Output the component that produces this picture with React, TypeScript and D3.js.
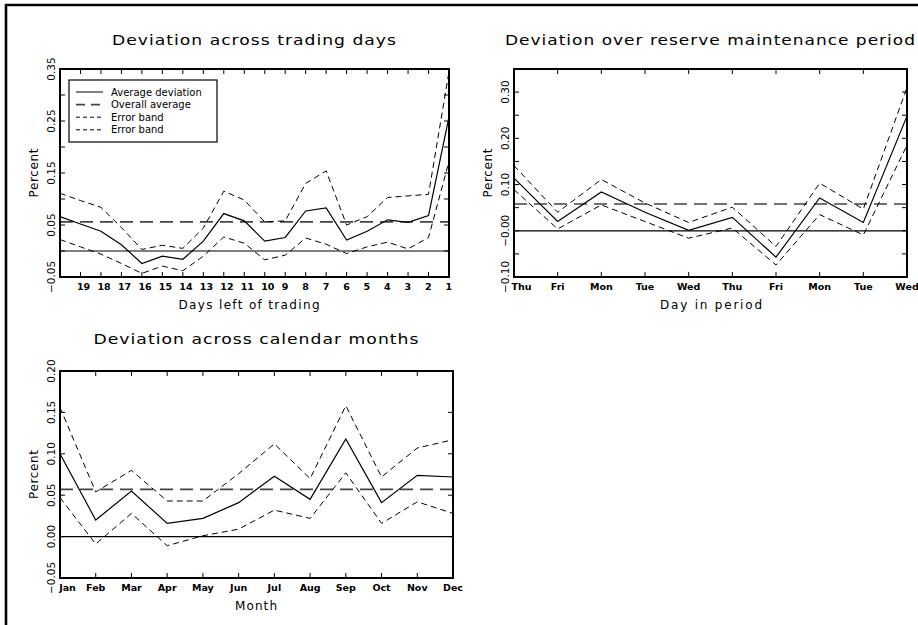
import React from "react";
import * as d3 from "d3";

// ---------- data ----------
const tradingDays = [20, 19, 18, 17, 16, 15, 14, 13, 12, 11, 10, 9, 8, 7, 6, 5, 4, 3, 2, 1];
const tradingDayLabels = ["", "19", "18", "17", "16", "15", "14", "13", "12", "11", "10", "9", "8", "7", "6", "5", "4", "3", "2", "1"];
const tradingAvg = [0.066, 0.052, 0.038, 0.012, -0.024, -0.010, -0.016, 0.019, 0.072, 0.058, 0.019, 0.026, 0.077, 0.083, 0.021, 0.038, 0.060, 0.055, 0.068, 0.258];
const tradingUpper = [0.111, 0.097, 0.084, 0.045, 0.003, 0.011, 0.005, 0.044, 0.115, 0.098, 0.056, 0.058, 0.130, 0.154, 0.050, 0.066, 0.103, 0.106, 0.109, 0.345];
const tradingLower = [0.022, 0.008, -0.006, -0.024, -0.043, -0.029, -0.038, -0.010, 0.027, 0.015, -0.017, -0.008, 0.025, 0.013, -0.005, 0.008, 0.017, 0.004, 0.026, 0.172];
const tradingOverall = 0.056;
const tradingYTicks = [-0.05, 0.0, 0.05, 0.1, 0.15, 0.2, 0.25, 0.3, 0.35];
const tradingYLabelValues = [-0.05, 0.05, 0.15, 0.25, 0.35];
const tradingYLabels = ["\u22120.05", "0.05", "0.15", "0.25", "0.35"];

const periodDays = ["Thu", "Fri", "Mon", "Tue", "Wed", "Thu", "Fri", "Mon", "Tue", "Wed"];
const periodAvg = [0.114, 0.020, 0.084, 0.040, 0.001, 0.029, -0.057, 0.071, 0.018, 0.248];
const periodUpper = [0.141, 0.040, 0.111, 0.060, 0.018, 0.051, -0.034, 0.103, 0.047, 0.310];
const periodLower = [0.089, 0.004, 0.056, 0.020, -0.016, 0.006, -0.074, 0.035, -0.009, 0.185];
const periodOverall = 0.058;
const periodYTicks = [-0.1, -0.05, 0.0, 0.05, 0.1, 0.15, 0.2, 0.25, 0.3, 0.35];
const periodYLabelValues = [-0.1, 0.0, 0.1, 0.2, 0.3];
const periodYLabels = ["\u22120.10", "\u22120.00", "0.10", "0.20", "0.30"];

const months = ["Jan", "Feb", "Mar", "Apr", "May", "Jun", "Jul", "Aug", "Sep", "Oct", "Nov", "Dec"];
const monthAvg = [0.100, 0.020, 0.055, 0.016, 0.022, 0.041, 0.073, 0.045, 0.118, 0.041, 0.074, 0.072];
const monthUpper = [0.156, 0.054, 0.080, 0.043, 0.043, 0.076, 0.112, 0.070, 0.158, 0.072, 0.107, 0.117];
const monthLower = [0.047, -0.009, 0.028, -0.011, 0.001, 0.009, 0.032, 0.022, 0.077, 0.016, 0.042, 0.028];
const monthOverall = 0.057;
const monthYTicks = [-0.05, 0.0, 0.05, 0.1, 0.15, 0.2];
const monthYLabelValues = [-0.05, 0.0, 0.05, 0.1, 0.15, 0.2];
const monthYLabels = ["\u22120.05", "0.00", "0.05", "0.10", "0.15", "0.20"];

const legendItems = ["Average deviation", "Overall average", "Error band", "Error band"];

// ---------- styling ----------
const FONT = "'DejaVu Sans', Verdana, sans-serif";
const AVG_DASH = "13 7";
const BAND_DASH = "6 4";
const AVG_COLOR = "#444";

type Box = { left: number; right: number; top: number; bottom: number };

type PanelProps = {
  box: Box;
  labels: string[];
  avg: number[];
  upper: number[];
  lower: number[];
  overall: number;
  yDomain: [number, number];
  yTicks: number[];
  yLabelValues: number[];
  yLabels: string[];
  title: string;
  titleY: number;
  titleLen: number;
  xTitle: string;
  xTitleX: number;
  xTitleLen: number;
  labelMode: "start" | "middle";
  legend?: boolean;
};

function Panel(p: PanelProps) {
  const { box } = p;
  const idx = p.labels.map((_, i) => i);
  const x = d3.scalePoint<number>().domain(idx).range([box.left, box.right]).padding(0);
  const y = d3.scaleLinear().domain(p.yDomain).range([box.bottom, box.top]);
  const line = d3
    .line<number>()
    .x((_, i) => x(i) as number)
    .y((d) => y(d));
  const tick = 5;
  const cx = (box.left + box.right) / 2;
  const cy = (box.top + box.bottom) / 2;

  return (
    <g>
      <text
        x={cx}
        y={p.titleY}
        textAnchor="middle"
        fontSize={13.5}
        fontFamily={FONT}
        letterSpacing={0.8}
        textLength={p.titleLen}
        lengthAdjust="spacingAndGlyphs"
      >
        {p.title}
      </text>

      {/* zero line */}
      <line x1={box.left} x2={box.right} y1={y(0)} y2={y(0)} stroke="#000" strokeWidth={1.2} />
      {/* overall average */}
      <line
        x1={box.left}
        x2={box.right}
        y1={y(p.overall)}
        y2={y(p.overall)}
        stroke={AVG_COLOR}
        strokeWidth={1.6}
        strokeDasharray={AVG_DASH}
      />
      <path d={line(p.upper) || ""} fill="none" stroke="#000" strokeWidth={1} strokeDasharray={BAND_DASH} />
      <path d={line(p.lower) || ""} fill="none" stroke="#000" strokeWidth={1} strokeDasharray={BAND_DASH} />
      <path d={line(p.avg) || ""} fill="none" stroke="#000" strokeWidth={1.2} />

      {/* ticks */}
      {idx.map((i) => (
        <g key={"xt" + i}>
          <line x1={x(i)} x2={x(i)} y1={box.bottom} y2={box.bottom - tick} stroke="#000" strokeWidth={1} />
          <line x1={x(i)} x2={x(i)} y1={box.top} y2={box.top + tick} stroke="#000" strokeWidth={1} />
        </g>
      ))}
      {p.yTicks.map((v, i) => (
        <g key={"yt" + i}>
          <line x1={box.left} x2={box.left + tick} y1={y(v)} y2={y(v)} stroke="#000" strokeWidth={1} />
          <line x1={box.right} x2={box.right - tick} y1={y(v)} y2={y(v)} stroke="#000" strokeWidth={1} />
        </g>
      ))}

      <rect
        x={box.left}
        y={box.top}
        width={box.right - box.left}
        height={box.bottom - box.top}
        fill="none"
        stroke="#000"
        strokeWidth={2}
      />

      {/* x tick labels */}
      {p.labels.map((lab, i) => {
        const px = x(i) as number;
        if (p.labelMode === "start") {
          return (
            <text key={"xl" + i} x={px - 3.5} y={box.bottom + 13} fontSize={9.5} fontWeight="bold" fontFamily={FONT}>
              {lab}
            </text>
          );
        }
        return (
          <text
            key={"xl" + i}
            x={i === 0 ? px + 7.5 : px}
            y={box.bottom + 13}
            textAnchor="middle"
            fontSize={9.5}
            fontWeight="bold"
            fontFamily={FONT}
          >
            {lab}
          </text>
        );
      })}

      {/* y tick labels */}
      {p.yLabelValues.map((v, i) => (
        <text
          key={"yl" + i}
          transform={`translate(${box.left - 5},${y(v)}) rotate(-90)`}
          textAnchor="middle"
          fontSize={10.5}
          fontFamily={FONT}
        >
          {p.yLabels[i]}
        </text>
      ))}

      <text
        transform={`translate(${box.left - 22},${cy}) rotate(-90)`}
        textAnchor="middle"
        fontSize={12}
        fontFamily={FONT}
        textLength={49}
        lengthAdjust="spacing"
      >
        Percent
      </text>

      <text
        x={p.xTitleX}
        y={box.bottom + 32}
        textAnchor="middle"
        fontSize={12}
        fontFamily={FONT}
        textLength={p.xTitleLen}
        lengthAdjust="spacing"
      >
        {p.xTitle}
      </text>

      {p.legend && (
        <g>
          <rect x={69} y={80} width={148} height={62} fill="#fff" stroke="#000" strokeWidth={1.2} />
          {legendItems.map((name, i) => {
            const ly = 92 + i * 12.6;
            const dash = i === 0 ? undefined : i === 1 ? "9 6" : "4 3";
            const col = i === 1 ? AVG_COLOR : "#000";
            return (
              <g key={"lg" + i}>
                <line x1={76} x2={103} y1={ly} y2={ly} stroke={col} strokeWidth={i === 1 ? 1.6 : 1} strokeDasharray={dash} />
                <text x={111} y={ly + 3.5} fontSize={10} fontFamily={FONT}>
                  {name}
                </text>
              </g>
            );
          })}
        </g>
      )}
    </g>
  );
}

export default function App() {
  return (
    <svg
      width={918}
      height={625}
      style={{ position: "fixed", left: 0, top: 0, background: "#fff" }}
      viewBox="0 0 918 625"
    >
      <rect x={0} y={0} width={918} height={625} fill="#fff" />
      {/* outer frame (clipped on right/bottom) */}
      <path d="M6,625 L6,5 L918,5" fill="none" stroke="#000" strokeWidth={2.6} />

      <Panel
        box={{ left: 60, right: 449, top: 69, bottom: 277 }}
        labels={tradingDayLabels}
        avg={tradingAvg}
        upper={tradingUpper}
        lower={tradingLower}
        overall={tradingOverall}
        yDomain={[-0.05, 0.35]}
        yTicks={tradingYTicks}
        yLabelValues={tradingYLabelValues}
        yLabels={tradingYLabels}
        title="Deviation across trading days"
        titleY={45}
        titleLen={285}
        xTitle="Days left of trading"
        xTitleX={249}
        xTitleLen={141}
        labelMode="start"
        legend
      />
      <Panel
        box={{ left: 514, right: 907, top: 69, bottom: 277 }}
        labels={periodDays}
        avg={periodAvg}
        upper={periodUpper}
        lower={periodLower}
        overall={periodOverall}
        yDomain={[-0.1, 0.35]}
        yTicks={periodYTicks}
        yLabelValues={periodYLabelValues}
        yLabels={periodYLabels}
        title="Deviation over reserve maintenance period"
        titleY={45}
        titleLen={411}
        xTitle="Day in period"
        xTitleX={711}
        xTitleLen={102}
        labelMode="middle"
      />
      <Panel
        box={{ left: 60, right: 453, top: 371, bottom: 578 }}
        labels={months}
        avg={monthAvg}
        upper={monthUpper}
        lower={monthLower}
        overall={monthOverall}
        yDomain={[-0.05, 0.2]}
        yTicks={monthYTicks}
        yLabelValues={monthYLabelValues}
        yLabels={monthYLabels}
        title="Deviation across calendar months"
        titleY={344}
        titleLen={326}
        xTitle="Month"
        xTitleX={256}
        xTitleLen={42}
        labelMode="middle"
      />
    </svg>
  );
}
